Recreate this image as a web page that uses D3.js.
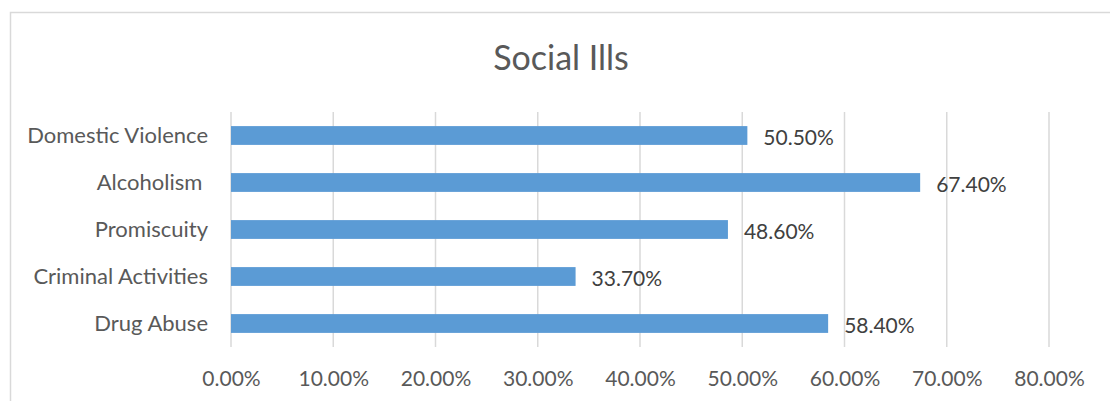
<!doctype html>
<html>
  <head>
    <script src="https://d3js.org/d3.v7.min.js"></script>
    <style>
      body { margin: 0; background: #fff; }
      text { font-family: Lato, "Liberation Sans", sans-serif; fill: #595959; }
    </style>
  </head>
  <body>
    <svg class="chart" width="1110" height="401"></svg>
    <script>
      // data
      var categories = ["Domestic Violence", "Alcoholism ", "Promiscuity", "Criminal Activities", "Drug Abuse"];
      var values = [50.5, 67.4, 48.6, 33.7, 58.4];
      var ticks = [0, 10, 20, 30, 40, 50, 60, 70, 80];

      var svg = d3.select("svg");

      // chart border (cropped on right and bottom)
      svg.append("rect")
        .attr("x", 10.5).attr("y", 12.5)
        .attr("width", 1200).attr("height", 500)
        .attr("fill", "none").attr("stroke", "#d9d9d9").attr("stroke-width", 1.5);

      svg.append("text")
        .attr("x", 561).attr("y", 70)
        .attr("text-anchor", "middle")
        .style("font-size", "34px")
        .text("Social Ills");

      var plotLeft = 231, plotRight = 1049, plotTop = 112, plotBottom = 347;
      var x = d3.scaleLinear().domain([0, 80]).range([plotLeft, plotRight]);
      var y = d3.scaleBand().domain(categories).range([plotTop, plotBottom]).paddingInner(0.6).paddingOuter(0.3);

      // gridlines
      svg.append("g").selectAll("line")
        .data(ticks).enter().append("line")
        .attr("x1", function(d){ return x(d); })
        .attr("x2", function(d){ return x(d); })
        .attr("y1", plotTop).attr("y2", plotBottom)
        .attr("stroke", "#d9d9d9").attr("stroke-width", 1.5);

      // x axis labels
      var xAxis = svg.append("g")
        .attr("transform", "translate(0," + plotBottom + ")")
        .call(d3.axisBottom(x).tickValues(ticks).tickSize(0).tickPadding(24)
              .tickFormat(function(d){ return d.toFixed(2) + "%"; }));
      xAxis.select(".domain").remove();
      xAxis.selectAll("text").style("font-size", "21px").attr("fill", "#595959");

      // y axis labels
      var yAxis = svg.append("g")
        .attr("transform", "translate(" + plotLeft + ",0)")
        .call(d3.axisLeft(y).tickSize(0).tickPadding(23));
      yAxis.select(".domain").remove();
      yAxis.selectAll("text").style("font-size", "22px").style("white-space", "pre").attr("fill", "#595959");

      // bars
      svg.append("g").selectAll("rect")
        .data(values).enter().append("rect")
        .attr("x", x(0))
        .attr("y", function(d, i){ return y(categories[i]); })
        .attr("width", function(d){ return x(d) - x(0); })
        .attr("height", y.bandwidth())
        .attr("fill", "#5b9bd5");

      // value labels
      svg.append("g").selectAll("text")
        .data(values).enter().append("text")
        .attr("x", function(d){ return x(d) + 16; })
        .attr("y", function(d, i){ return y(categories[i]) + y.bandwidth() / 2 + 9; })
        .style("font-size", "21px")
        .style("fill", "#404040")
        .text(function(d){ return d.toFixed(2) + "%"; });
    </script>
  </body>
</html>
